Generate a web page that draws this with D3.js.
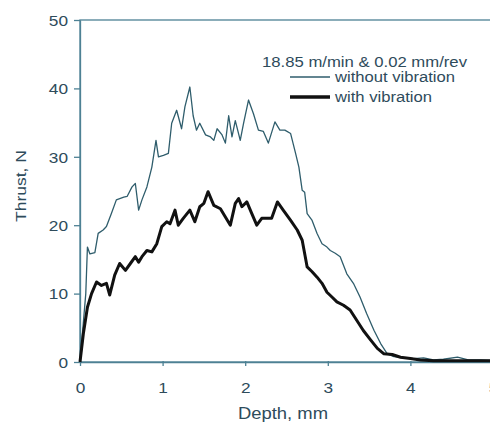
<!DOCTYPE html>
<html><head><meta charset="utf-8">
<script src="https://cdn.jsdelivr.net/npm/d3@7"></script>
<style>body{margin:0;background:#fff}svg{display:block}text{font-family:"Liberation Sans",Arial,sans-serif}</style>
</head><body>
<svg id="c" width="490" height="423"></svg>
<script>
const xTicks = [0,1,2,3,4,5];
const yTicks = [0,10,20,30,40,50];
const legendTitle = "18.85 m/min & 0.02 mm/rev";
const seriesNames = ["without vibration","with vibration"];
const withoutX = [0,0.07,0.09,0.12,0.18,0.22,0.28,0.32,0.38,0.44,0.53,0.57,0.63,0.67,0.71,0.75,0.81,0.87,0.92,0.95,1.01,1.07,1.11,1.17,1.23,1.27,1.33,1.37,1.41,1.45,1.52,1.58,1.62,1.66,1.72,1.76,1.80,1.84,1.88,1.94,1.98,2.04,2.10,2.16,2.22,2.28,2.36,2.42,2.48,2.55,2.61,2.65,2.69,2.72,2.75,2.81,2.87,2.93,2.99,3.03,3.09,3.15,3.23,3.31,3.39,3.47,3.56,3.64,3.72,3.80,3.92,4.04,4.16,4.28,4.40,4.57,4.70,4.85,5.0];
const withoutY = [0,10,16.8,15.8,16,18.8,19.3,19.8,21.7,23.7,24.1,24.2,25.6,26.1,22.2,23.7,25.6,28.5,32.4,30,30.2,30.5,34.9,36.8,34.1,37.3,40.2,36,33.9,34.9,33.2,32.9,32.4,34.1,33.2,32,36,32.9,35.3,32.4,34.9,38.3,36.3,33.9,33.7,32,35.1,33.9,33.9,33.4,30.5,28.5,25.1,24.8,21.7,20.7,18.8,17.3,16.8,16.3,15.9,15.4,12.9,11.5,9.5,7.1,4.6,2.7,1.2,0.8,0.6,0.5,0.6,0.3,0.4,0.7,0.3,0.3,0.2];
const withX = [0,0.04,0.09,0.14,0.20,0.26,0.32,0.36,0.42,0.48,0.55,0.61,0.67,0.71,0.75,0.81,0.87,0.93,0.99,1.05,1.09,1.15,1.19,1.25,1.33,1.39,1.45,1.50,1.55,1.62,1.70,1.76,1.82,1.88,1.92,1.96,2.02,2.08,2.14,2.20,2.26,2.32,2.39,2.46,2.55,2.63,2.69,2.75,2.81,2.87,2.93,2.99,3.05,3.11,3.19,3.27,3.35,3.43,3.52,3.60,3.68,3.78,3.88,4.00,4.12,4.28,4.6,5.0];
const withY = [0,4.1,8,10,11.7,11.2,11.5,9.8,12.7,14.4,13.4,14.4,15.4,14.6,15.4,16.3,16.1,17.3,19.8,20.5,20.2,22.2,20,21,22.2,20.5,22.7,23.2,24.9,22.9,22.4,21.2,20,23.2,23.9,22.7,23.4,21.7,20,21,21,21,23.4,22.2,20.7,19.3,17.8,13.9,13.2,12.4,11.5,10.2,9.5,8.8,8.3,7.6,6.1,4.6,3.2,2.0,1.2,1.1,0.7,0.5,0.3,0.2,0.2,0.2];

const svg = d3.select("#c");
const m = {l:80, t:20, r:493, b:362};
const x = d3.scaleLinear().domain([0,5]).range([m.l,m.r]);
const y = d3.scaleLinear().domain([0,50]).range([m.b,m.t]);
const axisCol = "#4d8194", textCol = "#2e4b5b";

svg.append("rect").attr("x",m.l).attr("y",m.t).attr("width",m.r-m.l).attr("height",m.b-m.t)
  .attr("fill","none").attr("stroke",axisCol).attr("stroke-width",1.3);

const gx = svg.append("g").attr("transform",`translate(0,${m.b})`)
  .call(d3.axisBottom(x).tickValues(xTicks).tickFormat(d3.format("d")).tickSize(4).tickSizeOuter(0));
const gy = svg.append("g").attr("transform",`translate(${m.l},0)`)
  .call(d3.axisLeft(y).tickValues(yTicks).tickFormat(d3.format("d")).tickSize(6).tickSizeOuter(0));
[gx,gy].forEach(g=>{
  g.select(".domain").attr("stroke",axisCol).attr("stroke-width",1.3);
  g.selectAll(".tick line").attr("stroke",axisCol).attr("stroke-width",1.3);
  g.selectAll(".tick text").attr("fill",textCol).attr("font-size",15).attr("font-family","Liberation Sans, Arial, sans-serif");
});
gx.selectAll(".tick line").attr("y1",-1).attr("y2",4);
gx.selectAll(".tick text").attr("y",0).attr("dy",0).attr("transform","translate(0,31) scale(1.15,1)");
gy.selectAll(".tick text").attr("x",0).attr("dy","0.35em").attr("transform","translate(-12,0) scale(1.15,1)");

const line = d3.line().x(d=>x(d[0])).y(d=>y(d[1]));
svg.append("path").datum(d3.zip(withoutX,withoutY)).attr("d",line)
  .attr("fill","none").attr("stroke","#2f5d6c").attr("stroke-width",1.3).attr("stroke-linejoin","round");
svg.append("path").datum(d3.zip(withX,withY)).attr("d",line)
  .attr("fill","none").attr("stroke","#111").attr("stroke-width",3).attr("stroke-linejoin","round");

svg.append("text").attr("x",238).attr("y",419).attr("textLength",90).attr("lengthAdjust","spacingAndGlyphs")
  .attr("fill",textCol).attr("font-size",16).text("Depth, mm");
svg.append("text").attr("transform","translate(26,222) rotate(-90)")
  .attr("textLength",72).attr("lengthAdjust","spacingAndGlyphs")
  .attr("fill",textCol).attr("font-size",15).text("Thrust, N");

svg.append("text").attr("x",262).attr("y",67).attr("textLength",205).attr("lengthAdjust","spacingAndGlyphs")
  .attr("fill",textCol).attr("font-size",14).text(legendTitle);
const lg = [{y:77,w:1.3,c:"#2f5d6c",len:120},{y:97,w:3.5,c:"#111",len:97}];
lg.forEach((d,i)=>{
  svg.append("line").attr("x1",290).attr("x2",330).attr("y1",d.y).attr("y2",d.y)
    .attr("stroke",d.c).attr("stroke-width",d.w);
  svg.append("text").attr("x",335).attr("y",d.y+5).attr("fill",textCol).attr("font-size",14)
    .attr("textLength",d.len).attr("lengthAdjust","spacingAndGlyphs").text(seriesNames[i]);
});
</script>
</body></html>
